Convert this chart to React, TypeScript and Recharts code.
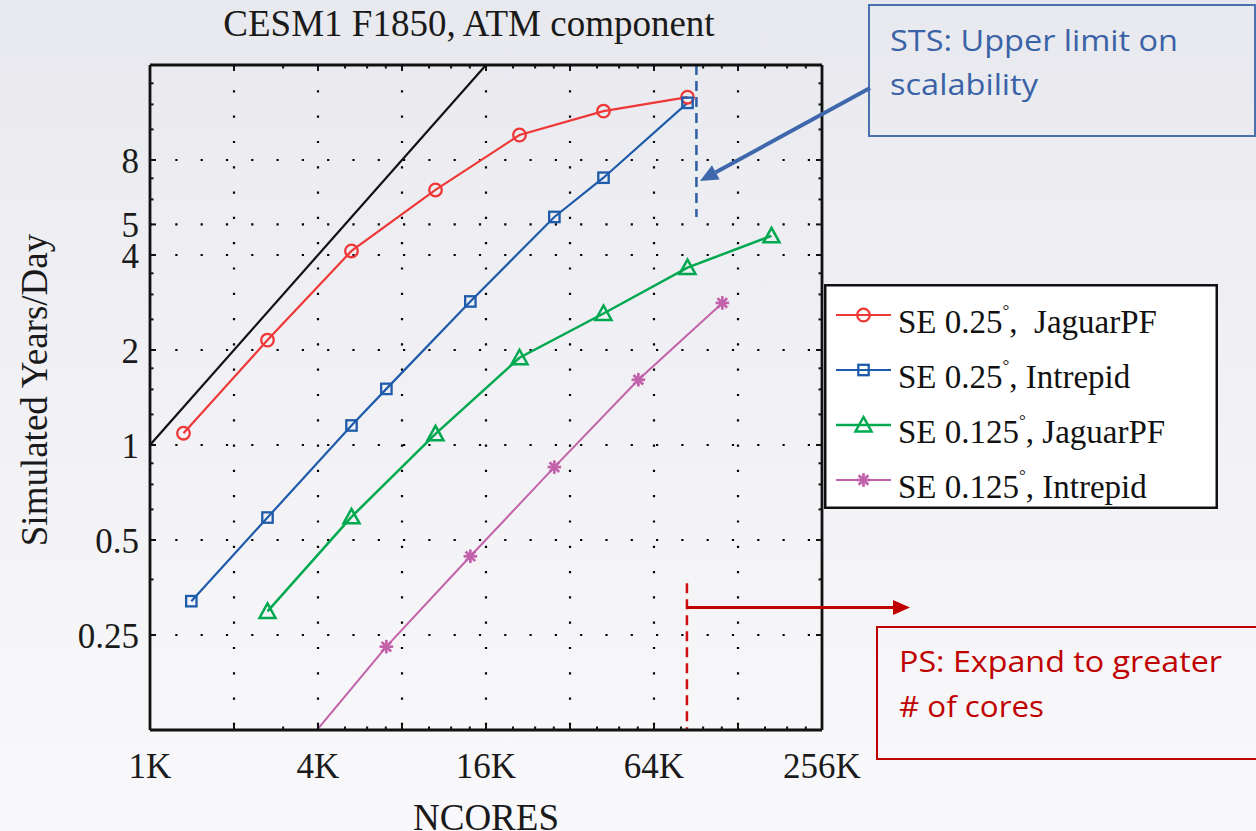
import React from 'react';
import { LineChart, Line, XAxis, YAxis, CartesianGrid, ReferenceLine, Legend } from 'recharts';

const W = 1256;
const H = 831;
const PLOT = { left: 150, top: 65, right: 822, bottom: 730 };

const SERIF = '"Liberation Serif", "Times New Roman", Times, serif';
const CALLOUT_FONT = '"Open Sans", Lato, sans-serif';

// SE 0.25 deg on JaguarPF
const jaguar025Cores = [1350, 2700, 5400, 10800, 21600, 43200, 86400];
const jaguar025Rate = [1.09, 2.15, 4.12, 6.43, 9.6, 11.43, 12.65];
// SE 0.25 deg on Intrepid
const intrepid025Cores = [1440, 2700, 5400, 7200, 14400, 28800, 43200, 86400];
const intrepid025Rate = [0.32, 0.589, 1.153, 1.506, 2.85, 5.28, 7.03, 12.14];
// SE 0.125 deg on JaguarPF
const jaguar0125Cores = [2700, 5400, 10800, 21600, 43200, 86400, 172800];
const jaguar0125Rate = [0.297, 0.592, 1.085, 1.89, 2.61, 3.65, 4.6];
// SE 0.125 deg on Intrepid
const intrepid0125Cores = [3600, 7200, 14400, 28800, 57600, 115200];
const intrepid0125Rate = [0.11, 0.2296, 0.444, 0.851, 1.61, 2.82];
// perfect linear scaling reference
const idealCores = [1024, 16384];
const idealRate = [1, 16];

// axes
const xDomain = [1024, 262144];
const yDomain = [0.125, 16];
const xLabelTicks = [1024, 4096, 16384, 65536, 262144];
const xLabels = ['1K', '4K', '16K', '64K', '256K'];
const xOctaveTicks = [2048, 8192, 32768, 131072];
const xMinorTicks = [3072, 5120, 6144, 7168, 10240, 12288, 14336, 20480, 24576, 28672, 40960, 49152, 57344, 81920, 98304, 114688, 163840, 196608, 229376];
const yLabelTicks = [0.25, 0.5, 1, 2, 4, 5, 8];
const yLabels = ['0.25', '0.5', '1', '2', '4', '5', '8'];
const yMinorTicks = [0.375, 0.625, 0.75, 0.875, 1.25, 1.5, 1.75, 2.5, 3, 3.5, 6, 7, 10, 12, 14];
const xGridValues = [2048, 4096, 8192, 16384, 32768, 65536, 131072];
const yGridValues = [0.25, 0.5, 1, 2, 4, 5, 8];

// scalability markers
const stsLimitCores = 93000;
const stsLineBottom = 5.28;
const psLimitCores = 86000;
const psLineTop = 0.365;

const allXTicks = [...xLabelTicks, ...xOctaveTicks, ...xMinorTicks].sort((a, b) => a - b);
const allYTicks = [...yLabelTicks, ...yMinorTicks].sort((a, b) => a - b);

const toPoints = (xs: number[], ys: number[]) => xs.map((x, i) => ({ x, y: ys[i] }));

type MarkerKind = 'circle' | 'square' | 'triangle' | 'star';

const SERIES: { key: string; name: string; color: string; marker: MarkerKind; width: number; data: { x: number; y: number }[] }[] = [
  { key: 'j025', name: 'SE 0.25°,  JaguarPF', color: '#EE3838', marker: 'circle', width: 2.2, data: toPoints(jaguar025Cores, jaguar025Rate) },
  { key: 'i025', name: 'SE 0.25°, Intrepid', color: '#1E5BAA', marker: 'square', width: 2.2, data: toPoints(intrepid025Cores, intrepid025Rate) },
  { key: 'j0125', name: 'SE 0.125°, JaguarPF', color: '#00A84F', marker: 'triangle', width: 2.5, data: toPoints(jaguar0125Cores, jaguar0125Rate) },
  { key: 'i0125', name: 'SE 0.125°, Intrepid', color: '#C262AA', marker: 'star', width: 2, data: toPoints(intrepid0125Cores, intrepid0125Rate) },
];
const idealData = toPoints(idealCores, idealRate);

function Marker({ kind, color, cx, cy }: { kind: MarkerKind; color: string; cx: number; cy: number }) {
  if (cx == null || cy == null || isNaN(cx) || isNaN(cy)) return null;
  switch (kind) {
    case 'circle':
      return <circle cx={cx} cy={cy} r={6.3} fill="none" stroke={color} strokeWidth={2.3} />;
    case 'square':
      return <rect x={cx - 5.2} y={cy - 5.2} width={10.4} height={10.4} fill="none" stroke={color} strokeWidth={2.3} />;
    case 'triangle':
      return (
        <polygon
          points={`${cx},${cy - 8} ${cx - 8},${cy + 6.5} ${cx + 8},${cy + 6.5}`}
          fill="none"
          stroke={color}
          strokeWidth={2.5}
        />
      );
    case 'star': {
      const r = 6.8;
      const d = r * Math.SQRT1_2;
      return (
        <g stroke={color} strokeWidth={2.7}>
          <line x1={cx - r} y1={cy} x2={cx + r} y2={cy} />
          <line x1={cx} y1={cy - r} x2={cx} y2={cy + r} />
          <line x1={cx - d} y1={cy - d} x2={cx + d} y2={cy + d} />
          <line x1={cx - d} y1={cy + d} x2={cx + d} y2={cy - d} />
        </g>
      );
    }
  }
  return null;
}

const isMajorX = (v: number) => xLabelTicks.includes(v) || xOctaveTicks.includes(v);

function BottomTick(props: any) {
  const { x, payload } = props;
  const v = payload?.value;
  const li = xLabelTicks.indexOf(v);
  const len = isMajorX(v) ? 6 : 3.5;
  return (
    <g>
      <line x1={x} x2={x} y1={PLOT.bottom} y2={PLOT.bottom - len} stroke="#111" strokeWidth={2} />
      {li >= 0 && (
        <text x={x} y={PLOT.bottom + 48} textAnchor="middle" fontFamily={SERIF} fontSize={35} fill="#1a1a1a">
          {xLabels[li]}
        </text>
      )}
    </g>
  );
}

function TopTick(props: any) {
  const { x, payload } = props;
  const v = payload?.value;
  const len = isMajorX(v) ? 6 : 3.5;
  return <line x1={x} x2={x} y1={PLOT.top} y2={PLOT.top + len} stroke="#111" strokeWidth={2} />;
}

function LeftTick(props: any) {
  const { y, payload } = props;
  const v = payload?.value;
  const li = yLabelTicks.indexOf(v);
  const len = li >= 0 ? 6 : 3.5;
  return (
    <g>
      <line x1={PLOT.left} x2={PLOT.left + len} y1={y} y2={y} stroke="#111" strokeWidth={2} />
      {li >= 0 && (
        <text x={PLOT.left - 11} y={y + 13} textAnchor="end" fontFamily={SERIF} fontSize={35} fill="#1a1a1a">
          {yLabels[li]}
        </text>
      )}
    </g>
  );
}

function RightTick(props: any) {
  const { y, payload } = props;
  const v = payload?.value;
  const len = yLabelTicks.includes(v) ? 6 : 3.5;
  return <line x1={PLOT.right} x2={PLOT.right - len} y1={y} y2={y} stroke="#111" strokeWidth={2} />;
}

const LEGEND = { left: 824, top: 284, w: 394, h: 225 };

function LegendBox(props: any) {
  const names: string[] = (props.payload || []).map((p: any) => p.value);
  const items = SERIES.filter((s) => names.includes(s.name));
  return (
    <svg width={LEGEND.w} height={LEGEND.h} style={{ display: 'block', overflow: 'visible' }}>
      <rect x={1.25} y={1.25} width={LEGEND.w - 2.5} height={LEGEND.h - 2.5} fill="#fff" stroke="#111" strokeWidth={2.5} />
      {items.map((s, i) => {
        const cy = 31 + i * 55;
        const [before, after] = s.name.split('°');
        return (
          <g key={s.key}>
            <line x1={12} x2={67} y1={cy} y2={cy} stroke={s.color} strokeWidth={s.width} />
            <Marker kind={s.marker} color={s.color} cx={39.5} cy={cy} />
            <text x={74} y={cy + 18} fontFamily={SERIF} fontSize={33} fill="#111" style={{ whiteSpace: 'pre' }}>
              {before}
              <tspan fontSize={17} dy={-17}>°</tspan>
              <tspan dy={17}>{after}</tspan>
            </text>
          </g>
        );
      })}
    </svg>
  );
}

function arrowHead(x1: number, y1: number, x2: number, y2: number, len: number, half: number) {
  const dx = x2 - x1;
  const dy = y2 - y1;
  const l = Math.hypot(dx, dy);
  const ux = dx / l;
  const uy = dy / l;
  const bx = x2 - ux * len;
  const by = y2 - uy * len;
  const nx = -uy;
  const ny = ux;
  return {
    base: { x: bx, y: by },
    points: `${x2},${y2} ${bx + nx * half},${by + ny * half} ${bx - nx * half},${by - ny * half}`,
  };
}

// callout text: content, baseline position and rendered width
const CALLOUT_LINES = [
  { text: 'STS: Upper limit on', x: 890, y: 51, w: 288, color: '#3A62A6' },
  { text: 'scalability', x: 890, y: 95, w: 148, color: '#3A62A6' },
  { text: 'PS: Expand to greater', x: 899, y: 672, w: 323, color: '#C00000' },
  { text: '# of cores', x: 899, y: 717, w: 145, color: '#C00000' },
];

export default function App() {
  const stsArrow = arrowHead(870, 88, 700, 181, 18, 8);
  const psArrow = arrowHead(687, 607.5, 910, 607.5, 17, 7.5);
  return (
    <div
      style={{
        position: 'absolute',
        left: 0,
        top: 0,
        width: W,
        height: H,
        overflow: 'hidden',
        background: 'linear-gradient(to bottom, #E8E9EE 0%, #F1F1F5 45%, #F9F9FB 100%)',
      }}
    >
      <LineChart width={W} height={H} margin={{ top: PLOT.top - 1, right: W - PLOT.right - 1, bottom: 0, left: 0 }}>
        <CartesianGrid
          horizontalValues={yGridValues}
          verticalValues={xGridValues}
          stroke="#000"
          strokeWidth={2.2}
          strokeDasharray="2.2 23.1"
          fill="none"
        />
        <XAxis
          xAxisId={0}
          dataKey="x"
          type="number"
          scale="log"
          domain={xDomain}
          allowDataOverflow
          ticks={allXTicks}
          interval={0}
          tick={BottomTick}
          tickLine={false}
          axisLine={{ stroke: '#111', strokeWidth: 2.8 }}
          height={H - PLOT.bottom}
          orientation="bottom"
        />
        <XAxis
          xAxisId="top"
          dataKey="x"
          type="number"
          scale="log"
          domain={xDomain}
          allowDataOverflow
          ticks={allXTicks}
          interval={0}
          tick={TopTick}
          tickLine={false}
          axisLine={{ stroke: '#111', strokeWidth: 2.8 }}
          height={1}
          orientation="top"
        />
        <YAxis
          yAxisId={0}
          type="number"
          scale="log"
          domain={yDomain}
          allowDataOverflow
          ticks={allYTicks}
          interval={0}
          tick={LeftTick}
          tickLine={false}
          axisLine={{ stroke: '#111', strokeWidth: 2.8 }}
          width={PLOT.left}
          orientation="left"
        />
        <YAxis
          yAxisId="right"
          type="number"
          scale="log"
          domain={yDomain}
          allowDataOverflow
          ticks={allYTicks}
          interval={0}
          tick={RightTick}
          tickLine={false}
          axisLine={{ stroke: '#111', strokeWidth: 2.8 }}
          width={1}
          orientation="right"
        />
        <ReferenceLine
          segment={[
            { x: stsLimitCores, y: yDomain[1] },
            { x: stsLimitCores, y: stsLineBottom },
          ]}
          stroke="#2F5DA6"
          strokeWidth={2.5}
          strokeDasharray="10 6"
        />
        <ReferenceLine
          segment={[
            { x: psLimitCores, y: psLineTop },
            { x: psLimitCores, y: yDomain[0] },
          ]}
          stroke="#CC1010"
          strokeWidth={2.5}
          strokeDasharray="10 6"
        />
        <Line
          data={idealData}
          dataKey="y"
          name="ideal"
          stroke="#111"
          strokeWidth={2.2}
          dot={false}
          activeDot={false}
          legendType="none"
          isAnimationActive={false}
        />
        {SERIES.map((s) => (
          <Line
            key={s.key}
            data={s.data}
            dataKey="y"
            name={s.name}
            stroke={s.color}
            strokeWidth={s.width}
            activeDot={false}
            isAnimationActive={false}
            dot={(p: any) => <Marker key={`${s.key}-${p.index}`} kind={s.marker} color={s.color} cx={p.cx} cy={p.cy} />}
          />
        ))}
        <Legend
          layout="vertical"
          align="center"
          verticalAlign="middle"
          wrapperStyle={{ left: LEGEND.left, top: LEGEND.top, width: LEGEND.w, height: LEGEND.h }}
          content={LegendBox}
        />
      </LineChart>
      <svg width={W} height={H} style={{ position: 'absolute', left: 0, top: 0, pointerEvents: 'none' }}>
        <text x={469} y={36} textAnchor="middle" fontFamily={SERIF} fontSize={37} fill="#1a1a1a">
          CESM1 F1850, ATM component
        </text>
        <text x={486} y={830} textAnchor="middle" fontFamily={SERIF} fontSize={37} fill="#1a1a1a">
          NCORES
        </text>
        <text transform="translate(47,390) rotate(-90)" textAnchor="middle" fontFamily={SERIF} fontSize={37} fill="#1a1a1a">
          Simulated Years/Day
        </text>

        <rect x={869} y={5} width={386} height={131} fill="none" stroke="#4A70B0" strokeWidth={2} />
        <line x1={870} y1={88} x2={stsArrow.base.x} y2={stsArrow.base.y} stroke="#3F68AC" strokeWidth={4} />
        <polygon points={stsArrow.points} fill="#3F68AC" />

        <rect x={877} y={627} width={400} height={132} fill="none" stroke="#C00000" strokeWidth={2} />
        <line x1={687} y1={607.5} x2={psArrow.base.x} y2={psArrow.base.y} stroke="#C00000" strokeWidth={3} />
        <polygon points={psArrow.points} fill="#C00000" />

        {CALLOUT_LINES.map((l) => (
          <text
            key={l.text}
            x={l.x}
            y={l.y}
            fontFamily={CALLOUT_FONT}
            fontSize={30}
            fill={l.color}
            textLength={l.w}
            lengthAdjust="spacingAndGlyphs"
          >
            {l.text}
          </text>
        ))}
      </svg>
    </div>
  );
}
